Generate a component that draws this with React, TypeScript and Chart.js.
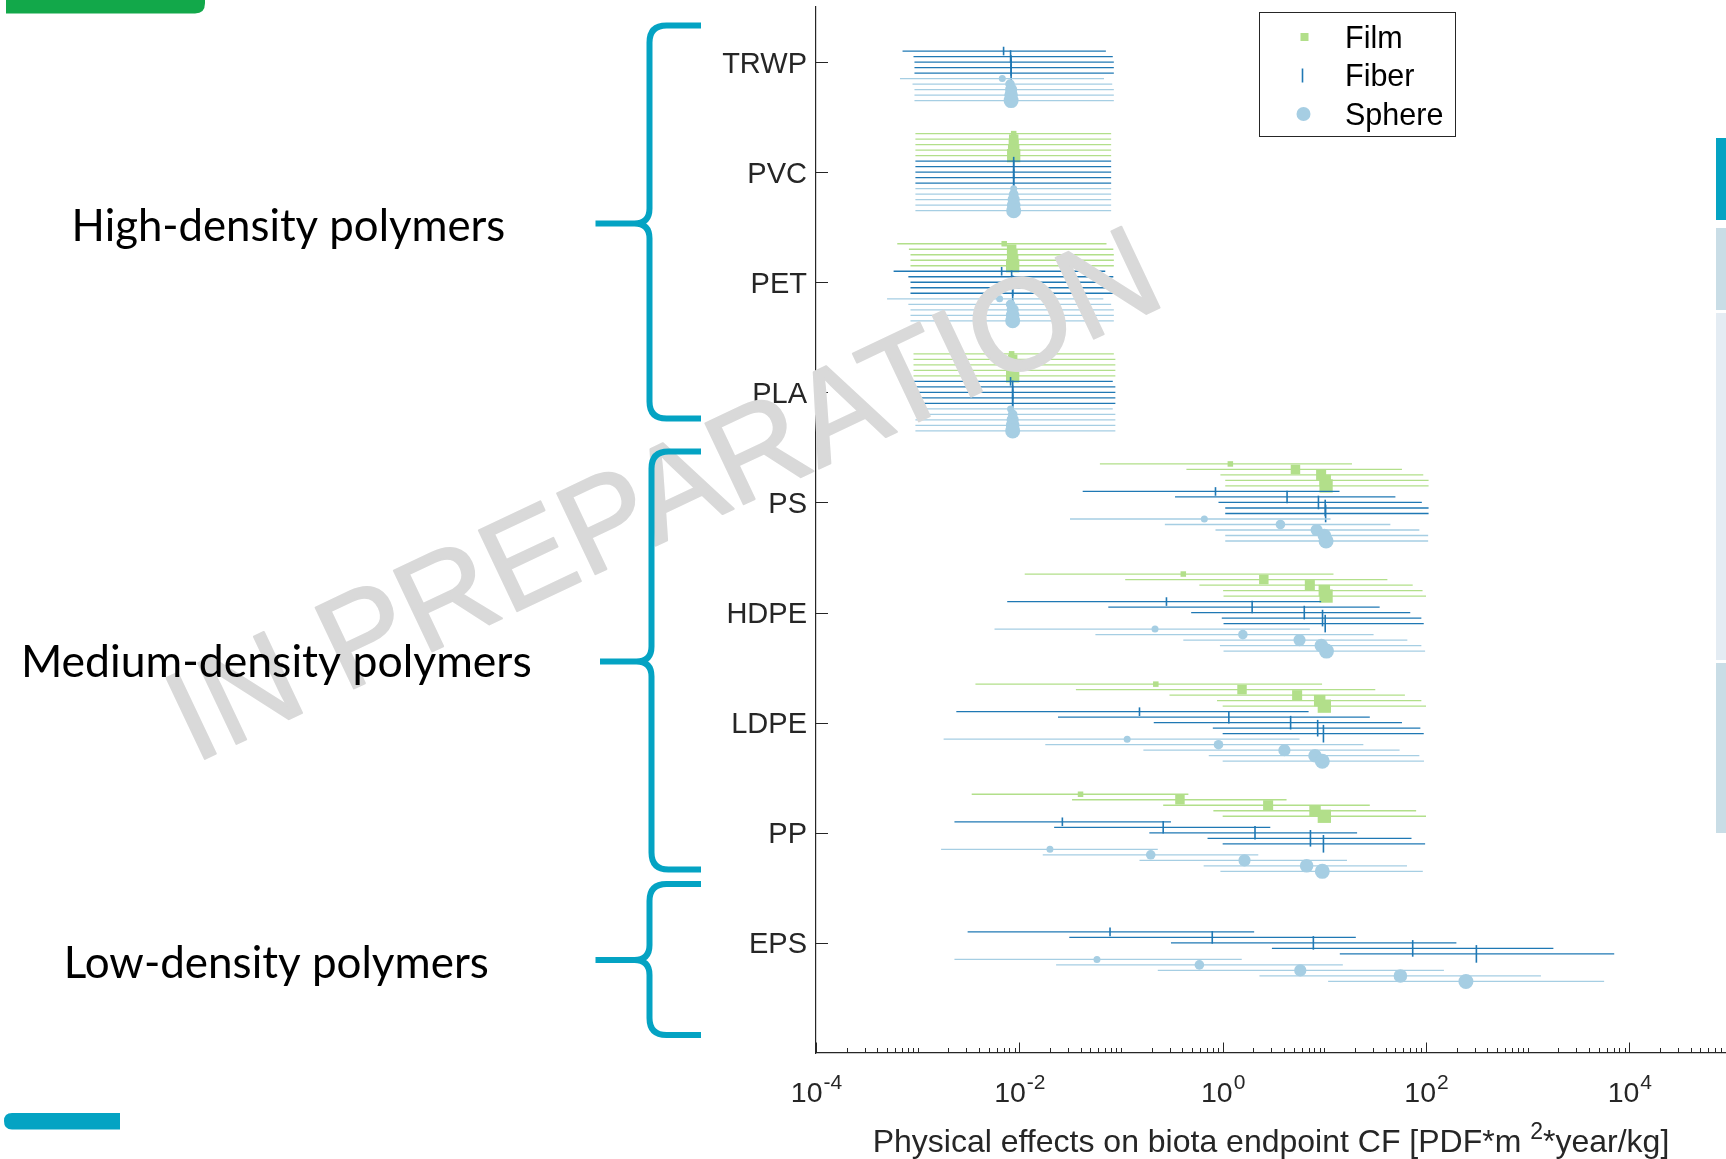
import { useEffect, useRef } from 'react';
import { Chart, registerables } from 'chart.js';

Chart.register(...registerables);

// ---------------- data ----------------
const polymers = ['TRWP', 'PVC', 'PET', 'PLA', 'PS', 'HDPE', 'LDPE', 'PP', 'EPS'];
const shapeNames = ['Film', 'Fiber', 'Sphere'];
const groupLabels = ['High-density polymers', 'Medium-density polymers', 'Low-density polymers'];
const xLabelExponents = [-4, -2, 0, 2, 4];
const axisTitle = ['Physical effects on biota endpoint CF [PDF*m ', '2', '*year/kg]'];
const watermark = 'IN PREPARATION';

// central value, lower and upper bound per polymer, 5 size classes each (null = shape not assessed)
const filmMid = [
  null,
  [0.0088, 0.0088, 0.0088, 0.0088, 0.0088],
  [0.0071, 0.0084, 0.0086, 0.0086, 0.0086],
  [0.0084, 0.0086, 0.0086, 0.0086, 0.0086],
  [1.19, 5.2, 9.3, 10.2, 10.4],
  [0.41, 2.54, 7.2, 10.0, 10.4],
  [0.22, 1.55, 5.4, 9.0, 10.0],
  [0.04, 0.38, 2.8, 8.1, 10.0],
  null,
];
const filmLow = [
  null,
  [0.00095, 0.00095, 0.00095, 0.00095, 0.00095],
  [0.00063, 0.00082, 0.00085, 0.00085, 0.00085],
  [0.00091, 0.00091, 0.00091, 0.00091, 0.00091],
  [0.062, 0.44, 0.95, 1.06, 1.06],
  [0.0113, 0.11, 0.59, 1.01, 1.02],
  [0.0037, 0.036, 0.3, 0.88, 1.0],
  [0.0034, 0.033, 0.26, 0.81, 1.0],
  null,
];
const filmHigh = [
  null,
  [0.08, 0.08, 0.08, 0.08, 0.08],
  [0.072, 0.084, 0.085, 0.085, 0.085],
  [0.085, 0.088, 0.088, 0.088, 0.088],
  [18.7, 58, 94, 106, 106],
  [12.3, 41.7, 74, 92.5, 100],
  [9.5, 31.7, 62, 90, 100],
  [0.46, 4.25, 28, 80, 100],
  null,
];

const fiberMid = [
  [0.007, 0.0082, 0.0083, 0.0083, 0.0083],
  [0.0088, 0.0088, 0.0088, 0.0088, 0.0088],
  [0.0067, 0.0084, 0.0086, 0.0086, 0.0086],
  [0.0082, 0.0086, 0.0086, 0.0086, 0.0086],
  [0.85, 4.3, 8.75, 10.2, 10.3],
  [0.28, 1.95, 6.35, 9.6, 10.2],
  [0.152, 1.15, 4.66, 8.6, 9.8],
  [0.0265, 0.26, 2.08, 7.3, 9.8],
  [0.078, 0.79, 7.8, 74, 313],
];
const fiberLow = [
  [0.00071, 0.00091, 0.00093, 0.00093, 0.00093],
  [0.00095, 0.00095, 0.00095, 0.00095, 0.00095],
  [0.00058, 0.00081, 0.00085, 0.00085, 0.00085],
  [0.0009, 0.00091, 0.00091, 0.00091, 0.00091],
  [0.042, 0.34, 0.91, 1.06, 1.06],
  [0.0076, 0.075, 0.49, 0.98, 1.02],
  [0.0024, 0.024, 0.21, 0.8, 1.0],
  [0.0023, 0.022, 0.19, 0.71, 1.0],
  [0.0031, 0.031, 0.31, 3.05, 14.2],
];
const fiberHigh = [
  [0.071, 0.083, 0.085, 0.085, 0.085],
  [0.08, 0.08, 0.08, 0.08, 0.08],
  [0.07, 0.084, 0.085, 0.085, 0.085],
  [0.083, 0.088, 0.088, 0.088, 0.088],
  [14.1, 50, 91, 106, 106],
  [9.3, 35, 70, 90, 95],
  [7.0, 28, 58, 88, 95],
  [0.31, 2.94, 21, 72, 98],
  [2.04, 20.4, 199, 1790, 7100],
];

const sphereMid = [
  [0.0068, 0.0081, 0.0083, 0.0083, 0.0083],
  [0.0088, 0.0088, 0.0088, 0.0088, 0.0088],
  [0.0064, 0.0082, 0.0086, 0.0086, 0.0086],
  [0.0082, 0.0086, 0.0086, 0.0086, 0.0086],
  [0.66, 3.7, 8.4, 10.0, 10.4],
  [0.216, 1.58, 5.7, 9.35, 10.5],
  [0.115, 0.91, 4.05, 8.1, 9.55],
  [0.02, 0.196, 1.64, 6.7, 9.55],
  [0.058, 0.59, 5.8, 56, 247],
];
const sphereLow = [
  [0.00067, 0.00089, 0.00093, 0.00093, 0.00093],
  [0.00095, 0.00095, 0.00095, 0.00095, 0.00095],
  [0.0005, 0.00081, 0.00085, 0.00085, 0.00085],
  [0.00091, 0.00095, 0.00095, 0.00095, 0.00095],
  [0.0315, 0.27, 0.85, 1.06, 1.06],
  [0.0057, 0.056, 0.41, 0.94, 1.02],
  [0.0018, 0.018, 0.166, 0.73, 1.0],
  [0.0017, 0.017, 0.152, 0.65, 0.95],
  [0.0023, 0.023, 0.23, 2.3, 10.9],
];
const sphereHigh = [
  [0.068, 0.082, 0.085, 0.085, 0.085],
  [0.08, 0.08, 0.08, 0.08, 0.08],
  [0.067, 0.08, 0.085, 0.085, 0.085],
  [0.083, 0.088, 0.088, 0.088, 0.088],
  [11.5, 44.6, 86, 105, 105],
  [7.2, 30.5, 65.5, 90, 98],
  [5.7, 24.2, 55, 86, 95.5],
  [0.23, 2.24, 16.7, 65, 93],
  [1.54, 15.2, 150, 1350, 5650],
];

// ---------------- styles ----------------
const FILM = '#b2df8a';
const FIBER = '#1f78b4';
const SPHERE = '#a6cee3';
const AXIS = '#262626';
const TEAL = '#04a3c3';
const SANS = '"Liberation Sans", Arial, Helvetica, sans-serif';
const filmRadius = [3.9, 6.7, 7.1, 8.1, 9.4];
const fiberRadius = [4.3, 6.3, 6.8, 8.3, 8.8];
const sphereRadius = [3.5, 4.8, 6.1, 6.8, 7.5];

const shapes = [
  { name: shapeNames[0], mid: filmMid, low: filmLow, high: filmHigh, color: FILM, style: 'rect', rot: 0, radii: filmRadius, bw: 0 },
  { name: shapeNames[1], mid: fiberMid, low: fiberLow, high: fiberHigh, color: FIBER, style: 'line', rot: 90, radii: fiberRadius, bw: 1.6 },
  { name: shapeNames[2], mid: sphereMid, low: sphereLow, high: sphereHigh, color: SPHERE, style: 'circle', rot: 0, radii: sphereRadius, bw: 0 },
];

function buildDatasets() {
  const out: any[] = [];
  polymers.forEach((_, pi) => {
    shapes.forEach((s, si) => {
      const mids = s.mid[pi];
      const lows = s.low[pi];
      const highs = s.high[pi];
      if (!mids || !lows || !highs) return;
      mids.forEach((m, k) => {
        const y = pi + 1 + (si * 5 + k - 7) * 0.05;
        out.push({
          label: `${polymers[pi]} ${s.name} ${k + 1}`,
          data: [
            { x: lows[k], y },
            { x: m, y },
            { x: highs[k], y },
          ],
          showLine: true,
          borderColor: s.color,
          borderWidth: 1.3,
          pointRadius: [0, s.radii[k], 0],
          pointHoverRadius: 0,
          pointStyle: s.style,
          pointRotation: s.rot,
          pointBackgroundColor: s.color,
          pointBorderColor: s.color,
          pointBorderWidth: s.bw,
        });
      });
    });
  });
  return out.reverse();
}

function drawBrace(ctx: CanvasRenderingContext2D, yTop: number, yMid: number, yBot: number, xVert: number, xTip: number) {
  const xEnd = 701;
  const r = 17;
  ctx.beginPath();
  ctx.moveTo(xEnd, yTop);
  ctx.lineTo(xVert + r, yTop);
  ctx.quadraticCurveTo(xVert, yTop, xVert, yTop + r);
  ctx.lineTo(xVert, yMid - 15);
  ctx.quadraticCurveTo(xVert, yMid, xVert - 15, yMid);
  ctx.lineTo(xTip, yMid);
  ctx.moveTo(xVert - 15, yMid);
  ctx.quadraticCurveTo(xVert, yMid, xVert, yMid + 15);
  ctx.lineTo(xVert, yBot - r);
  ctx.quadraticCurveTo(xVert, yBot, xVert + r, yBot);
  ctx.lineTo(xEnd, yBot);
  ctx.strokeStyle = TEAL;
  ctx.lineWidth = 6;
  ctx.lineJoin = 'round';
  ctx.stroke();
}

const overlayPlugin = {
  id: 'overlay',
  beforeDraw(chart: any) {
    const ctx: CanvasRenderingContext2D = chart.ctx;
    ctx.save();
    ctx.fillStyle = '#ffffff';
    ctx.fillRect(0, 0, chart.width, chart.height);
    // slide decorations
    ctx.fillStyle = '#12a84a';
    ctx.beginPath();
    ctx.moveTo(6, 0);
    ctx.lineTo(205, 0);
    ctx.lineTo(205, 3);
    ctx.quadraticCurveTo(205, 13.5, 195, 13.5);
    ctx.lineTo(6, 13.5);
    ctx.closePath();
    ctx.fill();
    ctx.fillStyle = TEAL;
    ctx.beginPath();
    ctx.moveTo(120, 1113);
    ctx.lineTo(12, 1113);
    ctx.quadraticCurveTo(4, 1113, 4, 1121);
    ctx.quadraticCurveTo(4, 1129.5, 12, 1129.5);
    ctx.lineTo(120, 1129.5);
    ctx.closePath();
    ctx.fill();
    ctx.fillStyle = TEAL;
    ctx.fillRect(1716, 138, 20, 82);
    ctx.fillStyle = '#c9dde6';
    ctx.fillRect(1716, 228, 20, 82);
    ctx.fillStyle = '#e4ecf3';
    ctx.fillRect(1716, 313, 20, 347);
    ctx.fillStyle = '#c9dde6';
    ctx.fillRect(1716, 663, 20, 170);
    ctx.restore();
  },
  afterDatasetsDraw(chart: any) {
    const ctx: CanvasRenderingContext2D = chart.ctx;
    const xs = chart.scales.x;
    const ys = chart.scales.y;
    const area = chart.chartArea;
    ctx.save();
    // inward tick marks
    ctx.strokeStyle = AXIS;
    ctx.lineWidth = 1;
    ctx.beginPath();
    xs.ticks.forEach((t: any) => {
      const v = t.value;
      const e = Math.round(Math.log10(v));
      const isMajor = Math.abs(v - Math.pow(10, e)) < 1e-9 * Math.pow(10, e) && xLabelExponents.includes(e);
      const px = Math.round(xs.getPixelForValue(v)) + 0.5;
      const len = isMajor ? 10.5 : 5;
      ctx.moveTo(px, area.bottom);
      ctx.lineTo(px, area.bottom - len);
    });
    ys.ticks.forEach((t: any) => {
      const py = Math.round(ys.getPixelForValue(t.value)) + 0.5;
      ctx.moveTo(area.left, py);
      ctx.lineTo(area.left + 12, py);
    });
    ctx.stroke();

    // x tick labels with superscript exponents
    ctx.fillStyle = AXIS;
    ctx.textAlign = 'left';
    ctx.textBaseline = 'alphabetic';
    const baseY = area.bottom + 49;
    xLabelExponents.forEach((e) => {
      const px = xs.getPixelForValue(Math.pow(10, e));
      ctx.font = `28.5px ${SANS}`;
      const wb = ctx.measureText('10').width;
      ctx.font = `21px ${SANS}`;
      const we = ctx.measureText(String(e)).width;
      const x0 = px - (wb + we) / 2;
      ctx.font = `28.5px ${SANS}`;
      ctx.fillText('10', x0, baseY);
      ctx.font = `21px ${SANS}`;
      ctx.fillText(String(e), x0 + wb + 1, baseY - 13);
    });

    // axis title
    const sizes = [32, 23, 32];
    const widths = axisTitle.map((t, i) => {
      ctx.font = `${sizes[i]}px ${SANS}`;
      return ctx.measureText(t).width;
    });
    const total = widths.reduce((a, b) => a + b, 0);
    let tx = 1271 - total / 2;
    const ty = area.bottom + 99;
    axisTitle.forEach((t, i) => {
      ctx.font = `${sizes[i]}px ${SANS}`;
      ctx.fillText(t, tx, i === 1 ? ty - 13 : ty);
      tx += widths[i];
    });

    // watermark
    ctx.save();
    ctx.translate(194, 764);
    ctx.rotate((-25.3 * Math.PI) / 180);
    ctx.font = `130px ${SANS}`;
    ctx.fillStyle = '#d9d9d9';
    ctx.strokeStyle = '#d9d9d9';
    ctx.lineWidth = 2;
    ctx.lineJoin = 'round';
    ctx.textAlign = 'left';
    ctx.textBaseline = 'alphabetic';
    ctx.fillText(watermark, 0, 0);
    ctx.strokeText(watermark, 0, 0);
    ctx.restore();
    ctx.restore();
  },
  afterDraw(chart: any) {
    const ctx: CanvasRenderingContext2D = chart.ctx;
    ctx.save();
    // legend
    ctx.fillStyle = '#ffffff';
    ctx.fillRect(1259.5, 12.5, 196, 124);
    ctx.strokeStyle = AXIS;
    ctx.lineWidth = 1;
    ctx.strokeRect(1259.5, 12.5, 196, 124);
    const rowsY = [37, 75.5, 114];
    ctx.fillStyle = FILM;
    ctx.fillRect(1300.5, rowsY[0] - 4, 8, 8);
    ctx.strokeStyle = FIBER;
    ctx.lineWidth = 1.6;
    ctx.beginPath();
    ctx.moveTo(1302.5, rowsY[1] - 7);
    ctx.lineTo(1302.5, rowsY[1] + 7);
    ctx.stroke();
    ctx.fillStyle = SPHERE;
    ctx.beginPath();
    ctx.arc(1303.5, rowsY[2], 7, 0, Math.PI * 2);
    ctx.fill();
    ctx.fillStyle = '#000000';
    ctx.font = `30.5px ${SANS}`;
    ctx.textAlign = 'left';
    ctx.textBaseline = 'middle';
    shapeNames.forEach((n, i) => ctx.fillText(n, 1345, rowsY[i] + 2.5));

    // braces
    drawBrace(ctx, 25.5, 223.5, 418.5, 649.5, 595.5);
    drawBrace(ctx, 451.5, 661.5, 869.5, 651.5, 600);
    drawBrace(ctx, 884, 960, 1035, 649.5, 595.5);

    // group labels (Calibri-like, fitted to width)
    const specs = [
      { x: 71.6, w: 433.7, base: 240.5 },
      { x: 20.9, w: 510.8, base: 676.5 },
      { x: 63.8, w: 425, base: 978 },
    ];
    ctx.fillStyle = '#000000';
    ctx.textBaseline = 'alphabetic';
    ctx.textAlign = 'left';
    groupLabels.forEach((t, i) => {
      ctx.font = '44px Lato, "Open Sans", sans-serif';
      const w = ctx.measureText(t).width;
      const sx = specs[i].w / w;
      ctx.save();
      ctx.translate(specs[i].x, specs[i].base);
      ctx.scale(sx, 1);
      ctx.fillText(t, 0, 0);
      ctx.restore();
    });
    ctx.restore();
  },
};

export default function App() {
  const ref = useRef<HTMLCanvasElement | null>(null);
  useEffect(() => {
    if (!ref.current) return;
    const xTickValues: number[] = [];
    for (let e = -4; e <= 4; e++) {
      for (let n = 1; n <= 9; n++) xTickValues.push(n * Math.pow(10, e));
    }
    xTickValues.push(1e5);
    const chart = new Chart(ref.current, {
      type: 'scatter',
      data: { datasets: buildDatasets() },
      options: {
        animation: false,
        responsive: false,
        devicePixelRatio: 1,
        events: [],
        layout: { padding: { top: 7, left: 0, right: 0, bottom: 0 } },
        plugins: { legend: { display: false }, tooltip: { enabled: false } },
        scales: {
          x: {
            type: 'logarithmic',
            position: 'bottom',
            min: 1e-4,
            max: 1e5,
            afterBuildTicks: (s: any) => {
              s.ticks = xTickValues.map((v) => ({ value: v }));
            },
            afterFit: (s: any) => {
              s.height = 106;
              s.paddingLeft = 0;
              s.paddingRight = 0;
            },
            ticks: { display: false },
            grid: { display: true, drawOnChartArea: false, drawTicks: false },
            border: { display: true, color: AXIS, width: 1.2 },
          },
          y: {
            type: 'linear',
            min: 0.5,
            max: 10,
            reverse: true,
            afterBuildTicks: (s: any) => {
              s.ticks = polymers.map((_, i) => ({ value: i + 1 }));
            },
            afterFit: (s: any) => {
              s.width = 816;
              s.paddingTop = 0;
              s.paddingBottom = 0;
            },
            ticks: {
              autoSkip: false,
              padding: 9,
              labelOffset: 2.5,
              color: AXIS,
              font: { family: SANS, size: 29 },
              callback: (v: any) => polymers[Math.round(Number(v)) - 1] ?? '',
            },
            grid: { display: true, drawOnChartArea: false, drawTicks: false },
            border: { display: true, color: AXIS, width: 1.2 },
          },
        },
      } as any,
      plugins: [overlayPlugin as any],
    });
    return () => chart.destroy();
  }, []);
  return (
    <div style={{ position: 'fixed', left: 0, top: 0, width: '1726px', height: '1159px', overflow: 'hidden', background: '#fff' }}>
      <canvas ref={ref} width={1731} height={1159} style={{ display: 'block', width: '1731px', height: '1159px' }} />
    </div>
  );
}
